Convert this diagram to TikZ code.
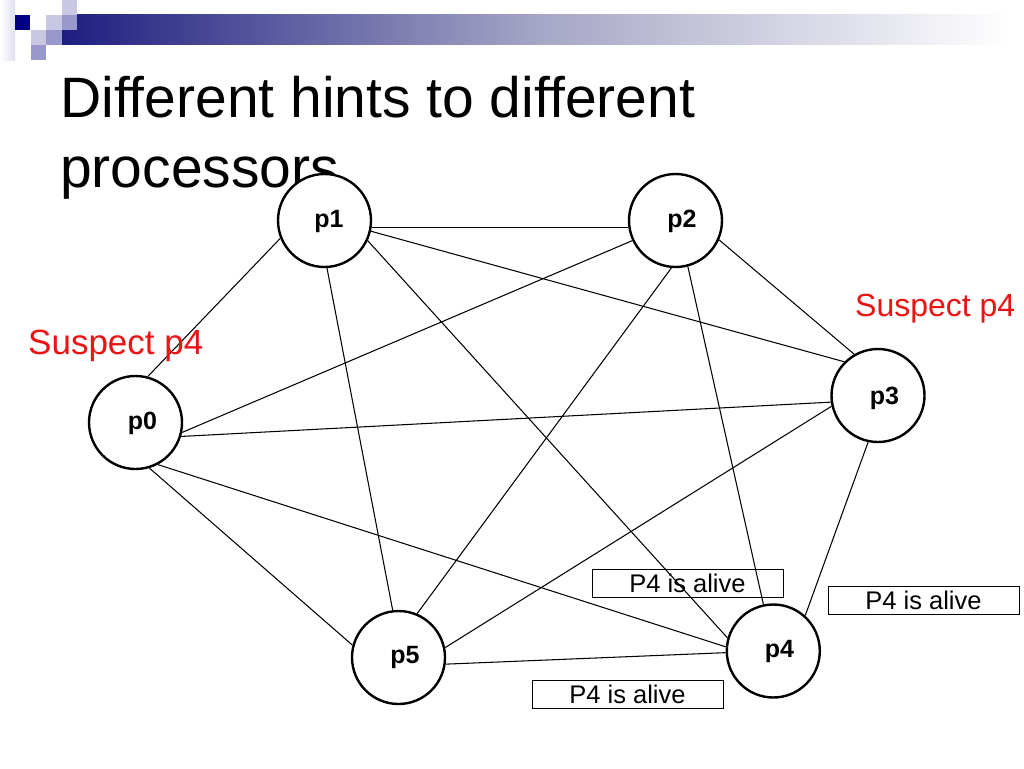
\documentclass[tikz,border=0pt]{standalone}
\usepackage{fontspec}
\setmainfont{Liberation Sans}[Ligatures={NoCommon}]
\definecolor{navy}{RGB}{0,0,128}
\definecolor{barleft}{RGB}{30,30,128}
\definecolor{barmid}{RGB}{165,165,198}
\definecolor{lightsq}{RGB}{200,200,226}
\definecolor{medsq}{RGB}{152,152,204}
\definecolor{redtxt}{RGB}{235,20,20}
\begin{document}
\begin{tikzpicture}[x=1pt,y=-1pt,
  proc/.style={circle,draw,line width=2.4pt,fill=white,minimum size=93pt,inner sep=0pt},
  plabel/.style={anchor=base,inner sep=0pt,font=\fontsize{25}{29}\selectfont\bfseries},
  edge/.style={line width=1.05pt},
  alive/.style={draw,line width=1pt,minimum width=191pt,minimum height=28pt,inner sep=0pt,font=\fontsize{25.5}{30}\selectfont},
  suspect/.style={anchor=base west,inner sep=0pt,text=redtxt},
  titletext/.style={anchor=base west,inner sep=0pt,font=\fontsize{57}{68}\selectfont}]
\fill[white] (0,0) rectangle (1024,768);
\useasboundingbox (0,0) rectangle (1024,768);
% header decoration
\shade[left color=white,right color=lightsq!60] (0,0) rectangle (15,60);
\shade[left color=barleft,right color=white,middle color=barmid] (62,15) rectangle (1010,45);
\fill[navy] (15,15) rectangle (30,30);
\fill[lightsq] (62,0) rectangle (77,15);
\fill[lightsq] (46,15) rectangle (62,30);
\fill[medsq] (62,15) rectangle (77,30);
\fill[lightsq] (31,30) rectangle (46,45);
\fill[medsq] (46,30) rectangle (62,45);
\fill[medsq] (31,45) rectangle (46,60);
% title
\node[titletext] (title1) at (60,117) {Different hints to different};
\node[titletext] (title2) at (60,187) {processors};
% processors
\node[proc] (p0) at (135.5,422.5) {};
\node[proc] (p1) at (324.5,220.5) {};
\node[proc] (p2) at (675.5,220.5) {};
\node[proc] (p3) at (878,395.5) {};
\node[proc] (p4) at (773.3,651) {};
\node[proc] (p5) at (398.5,657.5) {};
\node[plabel] (l0) at (142.5,429) {p0};
\node[plabel] (l1) at (329,227) {p1};
\node[plabel] (l2) at (682,227) {p2};
\node[plabel] (l3) at (884.5,404) {p3};
\node[plabel] (l4) at (779.5,657) {p4};
\node[plabel] (l5) at (405,663) {p5};
% edges
\draw[edge] (p0.75) -- (p1.202.7);
\draw[edge] (p0.348.5) -- (p2.205);
\draw[edge] (p0.343) -- (p3.188.9);
\draw[edge] (p0.298.5) -- (p4.175.3);
\draw[edge] (p0.287.3) -- (p5.165);
\draw[edge] (p1.351) -- (p2.189);
\draw[edge] (p1.347.5) -- (p3.135.4);
\draw[edge] (p1.335.3) -- (p4.164.3);
\draw[edge] (p1.273) -- (p5.97.8);
\draw[edge] (p2.336.3) -- (p3.120.5);
\draw[edge] (p2.285) -- (p4.102.4);
\draw[edge] (p2.265.4) -- (p5.67.4);
\draw[edge] (p3.193.5) -- (p5.12.5);
\draw[edge] (p3.258) -- (p4.48.6);
\draw[edge] (p5.352.2) -- (p4.182.4);
% hints
\node[suspect,font=\fontsize{35}{40}\selectfont] (s0) at (28,354) {Suspect p4};
\node[suspect,font=\fontsize{32}{38}\selectfont] (s3) at (855,316) {Suspect p4};
\node[alive] (a1) at (687.5,583) {P4 is alive};
\node[alive] (a2) at (627.5,694) {P4 is alive};
\node[alive] (a3) at (923.5,600) {P4 is alive};
\end{tikzpicture}
\end{document}
